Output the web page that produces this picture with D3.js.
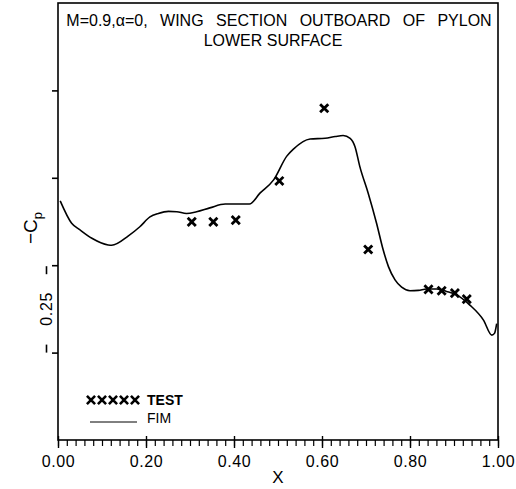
<!DOCTYPE html>
<html>
<head>
<meta charset="utf-8">
<script src="https://cdn.jsdelivr.net/npm/d3@7"></script>
<style>
  body { margin: 0; background: #fff; }
  text { font-family: "Liberation Sans", Arial, sans-serif; fill: #000; }
</style>
</head>
<body>
<div id="chart"></div>
<script>
// x/c stations and -Cp values (relative, tick spacing = 0.25)
var testX = [0.304, 0.353, 0.404, 0.503, 0.605, 0.705, 0.842, 0.872, 0.902, 0.929];
var testY = [0.624, 0.624, 0.629, 0.741, 0.949, 0.545, 0.431, 0.427, 0.420, 0.403];

var fimX = [0.005, 0.031, 0.050, 0.077, 0.114, 0.122, 0.160, 0.186, 0.209, 0.228, 0.251, 0.270,
            0.292, 0.315, 0.345, 0.380, 0.414, 0.435, 0.459, 0.490, 0.520, 0.535, 0.573, 0.607,
            0.630, 0.648, 0.664, 0.675, 0.686, 0.705, 0.724, 0.739, 0.751, 0.766, 0.781, 0.800,
            0.819, 0.838, 0.861, 0.883, 0.906, 0.936, 0.967, 0.986, 0.992, 0.997];
var fimY = [0.684, 0.620, 0.601, 0.577, 0.558, 0.557, 0.584, 0.610, 0.638, 0.648, 0.654, 0.653,
            0.648, 0.653, 0.664, 0.675, 0.675, 0.675, 0.706, 0.744, 0.812, 0.832, 0.861, 0.863,
            0.868, 0.871, 0.863, 0.839, 0.782, 0.706, 0.620, 0.544, 0.496, 0.458, 0.437, 0.427,
            0.428, 0.432, 0.432, 0.425, 0.415, 0.386, 0.343, 0.300, 0.305, 0.333];

var xMajor = [0, 0.2, 0.4, 0.6, 0.8, 1.0];
var xMinor = d3.range(0, 51).map(function (i) { return i / 50; });
var yTicks = [0.25, 0.5, 0.75, 1.0];

function main() {
    var width = 516, height = 489;
    var left = 58, right = 498, top = 3, bottom = 440;

    var svg = d3.select("#chart").append("svg")
        .attr("width", width)
        .attr("height", height);

    var x = d3.scaleLinear().domain([0, 1]).range([left, right]);
    var y = d3.scaleLinear().domain([0, 1.25]).range([bottom, top]);

    // frame
    svg.append("rect")
        .attr("x", left).attr("y", top)
        .attr("width", right - left).attr("height", bottom - top)
        .attr("fill", "none").attr("stroke", "#000").attr("stroke-width", 1.6);

    // minor x ticks
    svg.append("g")
        .attr("transform", "translate(0," + bottom + ")")
        .call(d3.axisBottom(x).tickValues(xMinor).tickSize(6).tickFormat(""))
        .call(function (g) { g.select(".domain").remove(); g.selectAll("line").attr("stroke-width", 1.2); });

    // major x ticks + labels
    var xa = svg.append("g")
        .attr("transform", "translate(0," + bottom + ")")
        .call(d3.axisBottom(x).tickValues(xMajor).tickSize(8).tickPadding(8)
            .tickFormat(d3.format(".2f")));
    xa.select(".domain").remove();
    xa.selectAll("line").attr("y1", -4).attr("stroke-width", 1.4);
    xa.selectAll("text")
        .attr("font-size", "16px")
        .attr("letter-spacing", "0.6px")
        .attr("font-family", "Liberation Sans, Arial, sans-serif")
        .attr("fill", "#000");

    // y ticks
    var ya = svg.append("g")
        .attr("transform", "translate(" + left + ",0)")
        .call(d3.axisLeft(y).tickValues(yTicks).tickSize(6).tickFormat(""));
    ya.select(".domain").remove();
    ya.selectAll("line").attr("stroke-width", 1.6);

    // axis titles
    svg.append("text")
        .attr("x", (left + right) / 2).attr("y", 483)
        .attr("text-anchor", "middle")
        .attr("font-size", "17px")
        .text("X");

    var cp = svg.append("text")
        .attr("transform", "translate(37,228) rotate(-90)")
        .attr("text-anchor", "middle")
        .attr("font-size", "19px");
    cp.append("tspan").text("\u2212C");
    cp.append("tspan").attr("dy", 5).attr("font-size", "13px").text("p");

    // 0.25 scale bar
    svg.append("text")
        .attr("transform", "translate(52," + ((y(0.5) + y(0.25)) / 2) + ") rotate(-90)")
        .attr("text-anchor", "middle")
        .attr("font-size", "16px")
        .attr("letter-spacing", "0.6px")
        .text("0.25");
    [0.5, 0.25].forEach(function (v, i) {
        var yy = y(v);
        svg.append("line")
            .attr("x1", 46.5).attr("x2", 46.5)
            .attr("y1", i === 0 ? yy + 1 : yy - 8)
            .attr("y2", i === 0 ? yy + 9 : yy)
            .attr("stroke", "#000").attr("stroke-width", 1.6);
    });

    // title
    svg.append("text")
        .attr("x", 279).attr("y", 26)
        .attr("text-anchor", "middle")
        .attr("font-size", "16px")
        .attr("word-spacing", "8px")
        .text("M=0.9,\u03b1=0, WING SECTION OUTBOARD OF PYLON");
    svg.append("text")
        .attr("x", 273).attr("y", 46)
        .attr("text-anchor", "middle")
        .attr("font-size", "16px")
        .text("LOWER SURFACE");

    // FIM line
    var fim = fimX.map(function (d, i) { return [d, fimY[i]]; });
    var line = d3.line()
        .x(function (d) { return x(d[0]); })
        .y(function (d) { return y(d[1]); })
        .curve(d3.curveMonotoneX);
    svg.append("path")
        .datum(fim)
        .attr("d", line)
        .attr("fill", "none")
        .attr("stroke", "#000")
        .attr("stroke-width", 1.6);

    // test markers
    var cross = d3.symbol().type(d3.symbolTimes).size(45);
    var test = testX.map(function (d, i) { return [d, testY[i]]; });
    svg.selectAll(".mk")
        .data(test)
        .enter()
        .append("path")
        .attr("class", "mk")
        .attr("d", cross)
        .attr("transform", function (d) { return "translate(" + x(d[0]) + "," + y(d[1]) + ")"; })
        .attr("fill", "none")
        .attr("stroke", "#000")
        .attr("stroke-width", 2.8);

    // legend
    d3.range(5).forEach(function (i) {
        svg.append("path")
            .attr("d", cross)
            .attr("transform", "translate(" + (91 + i * 11) + ",400)")
            .attr("fill", "none")
            .attr("stroke", "#000")
            .attr("stroke-width", 2.6);
    });
    svg.append("text")
        .attr("x", 147).attr("y", 405)
        .attr("font-size", "14px")
        .attr("font-weight", "bold")
        .text("TEST");
    svg.append("line")
        .attr("x1", 90).attr("x2", 137)
        .attr("y1", 422).attr("y2", 422)
        .attr("stroke", "#000").attr("stroke-width", 1);
    svg.append("text")
        .attr("x", 147).attr("y", 423)
        .attr("font-size", "14px")
        .text("FIM");
}

window.addEventListener('load', main);
</script>
</body>
</html>
